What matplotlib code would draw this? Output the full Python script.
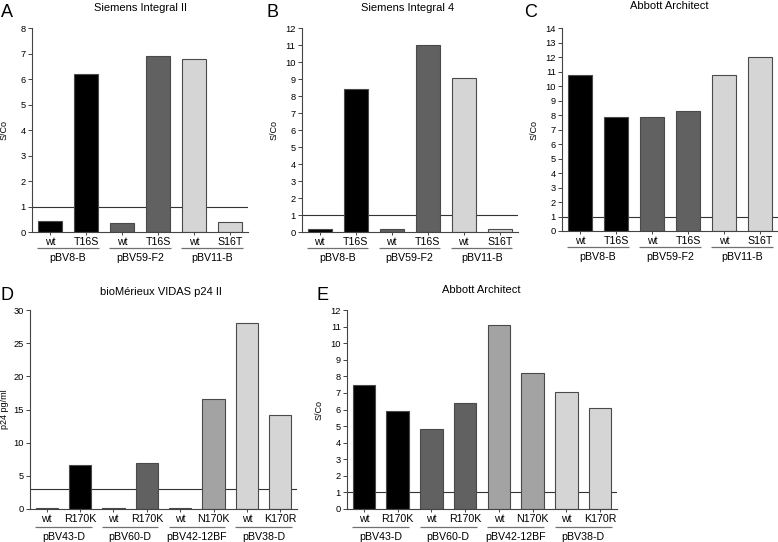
import matplotlib
matplotlib.use("Agg")
import matplotlib.pyplot as plt
from matplotlib.transforms import ScaledTranslation
import numpy as np

plt.rcParams['font.family'] = ['Liberation Sans', 'DejaVu Sans']

# ---- data ----
top_ticks = ['wt', 'T16S', 'wt', 'T16S', 'wt', 'S16T']
top_groups = ['pBV8-B', 'pBV59-F2', 'pBV11-B']
A_vals = [0.42, 6.2, 0.35, 6.92, 6.8, 0.4]
B_vals = [0.2, 8.4, 0.2, 11.0, 9.1, 0.15]
C_vals = [10.8, 7.9, 7.9, 8.3, 10.8, 12.0]

bot_ticks = ['wt', 'R170K', 'wt', 'R170K', 'wt', 'N170K', 'wt', 'K170R']
bot_groups = ['pBV43-D', 'pBV60-D', 'pBV42-12BF', 'pBV38-D']
D_vals = [0.15, 6.65, 0.15, 7.0, 0.15, 16.55, 28.0, 14.1]
E_vals = [7.5, 5.9, 4.82, 6.4, 11.1, 8.2, 7.08, 6.07]

top_colors = ['#000000', '#000000', '#616161', '#616161', '#d5d5d5', '#d5d5d5']
bot_colors = ['#000000', '#000000', '#616161', '#616161', '#a3a3a3', '#a3a3a3', '#d5d5d5', '#d5d5d5']

W, H = 778, 542
fig = plt.figure(figsize=(W / 100, H / 100), dpi=100)


def rect(l, t, r, b):
    return [l / W, 1 - b / H, (r - l) / W, (b - t) / H]


def panel(box, vals, ticks, groups, colors, ymax, ystep, cutoff, ylabel,
          title, title_xy, letter, letter_xy, ylab_px, offs):
    ax = fig.add_axes(rect(*box))
    l, t, r, b = box
    x = np.arange(len(vals))
    ax.axhline(cutoff, color='#333333', lw=0.8, zorder=1)
    ax.bar(x, vals, width=0.67, color=colors, edgecolor='#4a4a4a', lw=0.8, zorder=2)
    ax.set_xlim(-0.5, len(vals) - 0.5)
    ax.set_ylim(0, ymax)
    ax.set_yticks(np.arange(0, ymax + 0.01, ystep))
    ax.set_xticks(x)
    ax.set_xticklabels(ticks, fontsize=7.7)
    for s in ['top', 'right']:
        ax.spines[s].set_visible(False)
    for s in ['left', 'bottom']:
        ax.spines[s].set_color('#444444')
        ax.spines[s].set_linewidth(0.8)
    ax.tick_params(axis='y', labelsize=6.7, length=3, width=0.7, color='#444444', pad=1.5)
    ax.tick_params(axis='x', length=2.5, width=0.7, color='#444444', pad=1.2)
    ax.set_ylabel(ylabel, fontsize=6.5)
    # label's baseline side sits at the given x; centre is about 4 px left of it
    ax.yaxis.set_label_coords((ylab_px + 4 - l) / (r - l), 0.5)
    ul_off, lab_off = offs
    tr = ax.get_xaxis_transform() + ScaledTranslation(0, -ul_off / 100, fig.dpi_scale_trans)
    for i, g in enumerate(groups):
        c = 2 * i + 0.5
        ax.plot([c - 0.85, c + 0.85], [0, 0], transform=tr, color='#707070', lw=0.9,
                clip_on=False, solid_capstyle='butt')
        ax.annotate(g, xy=(c, 0), xycoords=ax.get_xaxis_transform(),
                    xytext=(0, -lab_off * 0.72), textcoords='offset points',
                    ha='center', va='center', fontsize=7.7)
    fig.text(title_xy[0] / W, 1 - title_xy[1] / H, title, ha='center', va='center', fontsize=8)
    fig.text(letter_xy[0] / W, 1 - letter_xy[1] / H, letter, ha='left', va='baseline', fontsize=13)
    return ax


panel((32, 28.3, 248, 232), A_vals, top_ticks, top_groups, top_colors, 8, 1, 1, 'S/Co',
      'Siemens Integral II', (140, 8), 'A', (1, 17), 5, (16.3, 26))
panel((301.7, 28.3, 517.7, 232), B_vals, top_ticks, top_groups, top_colors, 12, 1, 1, 'S/Co',
      'Siemens Integral 4', (408, 8), 'B', (267, 17), 275, (16.3, 26))
panel((562, 28.3, 778, 231), C_vals, top_ticks, top_groups, top_colors, 14, 1, 1, 'S/Co',
      'Abbott Architect', (669, 6), 'C', (524, 17), 535, (16.3, 26))
panel((30, 310, 297, 509), D_vals, bot_ticks, bot_groups, bot_colors, 30, 5, 3, 'p24 pg/ml',
      'bioMérieux VIDAS p24 II', (161, 292), 'D', (1, 300), 5, (18, 28))
panel((347, 310, 617, 509), E_vals, bot_ticks, bot_groups, bot_colors, 12, 1, 1, 'S/Co',
      'Abbott Architect', (481, 290), 'E', (316, 300), 320, (18, 28))

fig.savefig('out.png', dpi=100)
